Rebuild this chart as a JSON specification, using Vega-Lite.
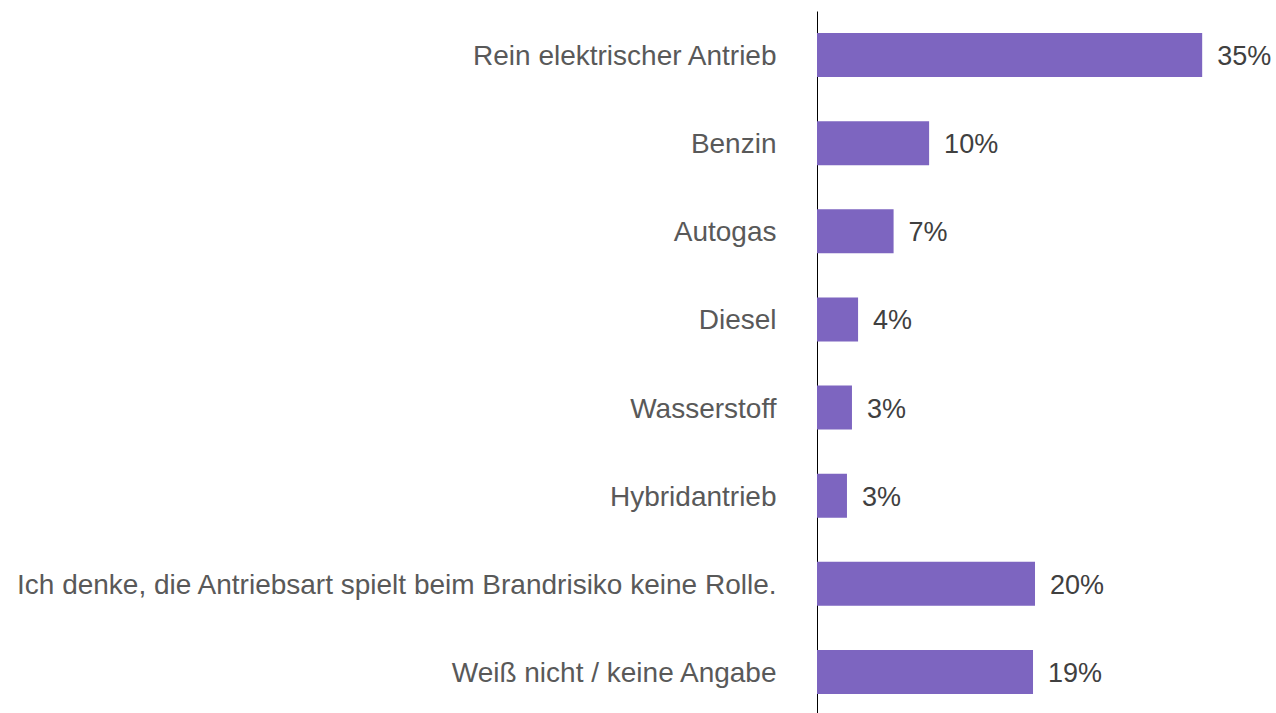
{
  "$schema": "https://vega.github.io/schema/vega-lite/v6.json",
  "autosize": "none",
  "padding": {"left": 817, "top": 11, "right": 0, "bottom": 0},
  "width": 459,
  "height": 705,
  "background": "white",
  "config": {"view": {"stroke": null}, "font": "Liberation Sans"},
  "data": {
    "values": [
      {"category": "Rein elektrischer Antrieb", "value": 34.7, "label": "35%"},
      {"category": "Benzin", "value": 10.1, "label": "10%"},
      {"category": "Autogas", "value": 6.9, "label": "7%"},
      {"category": "Diesel", "value": 3.7, "label": "4%"},
      {"category": "Wasserstoff", "value": 3.15, "label": "3%"},
      {"category": "Hybridantrieb", "value": 2.7, "label": "3%"},
      {"category": "Ich denke, die Antriebsart spielt beim Brandrisiko keine Rolle.", "value": 19.64, "label": "20%"},
      {"category": "Weiß nicht / keine Angabe", "value": 19.46, "label": "19%"}
    ]
  },
  "encoding": {
    "y": {
      "field": "category",
      "type": "nominal",
      "sort": null,
      "scale": {"paddingInner": 0.5, "paddingOuter": 0.25},
      "axis": {
        "title": null,
        "ticks": false,
        "domain": true,
        "domainColor": "#000000",
        "domainWidth": 1,
        "labelFontSize": 28,
        "labelColor": "#595959",
        "labelPadding": 41,
        "labelOffset": 2,
        "labelLimit": 0,
        "labelFont": "Liberation Sans"
      }
    },
    "x": {
      "field": "value",
      "type": "quantitative",
      "scale": {"domain": [0, 41.35], "nice": false, "zero": true},
      "axis": null
    }
  },
  "layer": [
    {"mark": {"type": "bar", "color": "#7D65C0"}},
    {
      "mark": {"type": "text", "align": "left", "baseline": "middle", "dx": 15, "dy": 2, "fontSize": 27, "color": "#404040", "font": "Liberation Sans"},
      "encoding": {"text": {"field": "label"}}
    }
  ]
}
